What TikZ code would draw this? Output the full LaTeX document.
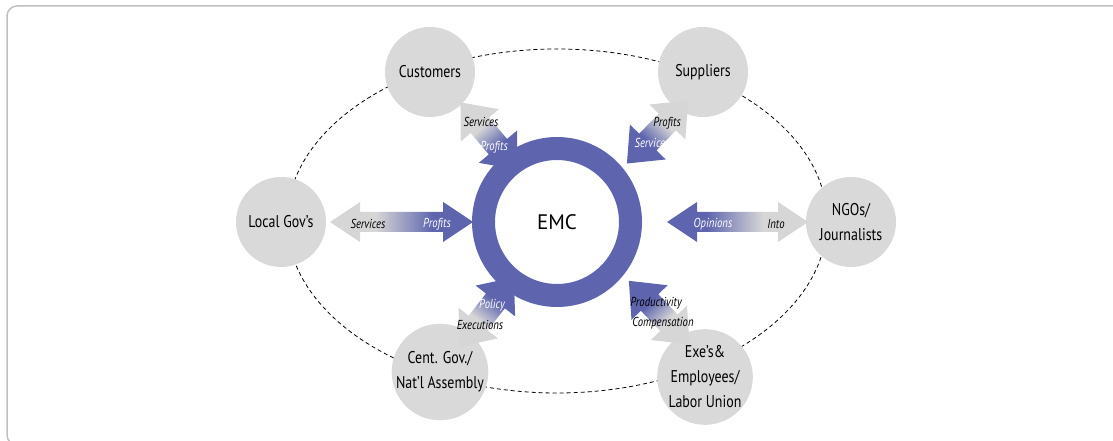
\documentclass[tikz,border=0pt]{standalone}
\usepackage{fontspec}
\setmainfont{PT Sans}
\newfontfamily\narrowfont{PT Sans}[FakeStretch=0.82]
\usepackage{tikz}
\usetikzlibrary{calc}% partway points between the hub and the parties
\definecolor{emcblue}{RGB}{94,101,174}
\definecolor{partygray}{RGB}{217,217,217}
\definecolor{linkgray}{RGB}{214,214,214}
\definecolor{framegray}{RGB}{192,192,192}
\pgfdeclarehorizontalshading{linkshade}{100bp}{color(0bp)=(linkgray);
  color(41bp)=(linkgray); color(61bp)=(emcblue); color(100bp)=(emcblue)}
\tikzset{
  party/.style={circle, fill=partygray, minimum size=90pt, inner sep=0pt,
    align=center, font=\narrowfont\fontsize{17}{25}\selectfont},
  ring/.style={circle, draw=emcblue, line width=23pt, minimum size=147pt,
    font=\fontsize{21}{24}\selectfont},
  flowlabel/.style={inner sep=0pt, font=\narrowfont\itshape\fontsize{13}{15}\selectfont}
}
% #1 = party node, #2 = where the arrow sits between hub and party, #3,#4 = nudge,
% #5 = half length, #6 = half width of the heads, #7 = half width of the shaft
\newcommand{\linkarrow}[7]
{\pgfmathanglebetweenpoints{\pgfpointanchor{#1}{center}}{\pgfpointanchor{hub}{center}}
  \let\linkangle\pgfmathresult
  \begin{scope}[shift={($(hub)!#2!(#1)+(#3,#4)$)}, rotate=\linkangle]
    \shade[shading=linkshade, shading angle=\linkangle]
      (-#5,0) -- (-#5+30,#6) -- (-#5+30,#7) -- (#5-30,#7) -- (#5-30,#6)
      -- (#5,0) -- (#5-30,-#6) -- (#5-30,-#7) -- (-#5+30,-#7) -- (-#5+30,-#6) -- cycle;
  \end{scope}}

\begin{document}
\begin{tikzpicture}[x=1pt,y=1pt]
  \useasboundingbox (0,0) rectangle (1113,441);
  \clip (0,0) rectangle (1113,441);
  \draw[framegray, line width=1.5pt, rounded corners=10pt] (7,-4) rectangle (1130,435);
  \draw[dash pattern=on 4pt off 3pt, line width=0.8pt] (557,220) ellipse [x radius=270, y radius=172];
  \coordinate (hub) at (557,219);
  \node[party] (cust) at (430,369) {Customers};
  \node[party] (supp) at (703,369) {Suppliers};
  \node[party] (local) at (281,219) {Local Gov’s};
  \node[party] (ngo) at (851,219) {NGOs/\\Journalists};
  \node[party] (cgov) at (440,69) {Cent. Gov./\\Nat’l Assembly};
  \node[party] (exe) at (705,64) {Exe’s\&\\Employees/\\Labor Union};
  \foreach \who/\t/\dx/\dy/\l/\a/\b in {local/0.563/0/0/71.5/20/10,
      ngo/0.614/0/0/70.5/20/10, cust/0.56/3/2/44/25/12, supp/0.6/13/0/44/25/12,
      cgov/0.6/0/0/44/25/12, exe/0.63/9/7/44/25/12}
    \linkarrow{\who}{\t}{\dx}{\dy}{\l}{\a}{\b};
  \node[ring] (emc) at (hub) {EMC};
  % words on the arrows
  \node[flowlabel] (cust-s) at (481,319) {Services};
  \node[flowlabel, white] (cust-p) at (494,294) {Profits};
  \node[flowlabel] (supp-p) at (667,318) {Profits};
  \node[flowlabel, white] (supp-s) at (652,298) {Services};
  \node[flowlabel] (local-s) at (368,217) {Services};
  \node[flowlabel, white] (local-p) at (437,217) {Profits};
  \node[flowlabel, white] (ngo-o) at (713,217) {Opinions};
  \node[flowlabel] (ngo-i) at (776,217) {Into};
  \node[flowlabel, white] (cgov-p) at (492,136) {Policy};
  \node[flowlabel] (cgov-e) at (480,116) {Executions};
  \node[flowlabel] (exe-p) at (656,138) {Productivity};
  \node[flowlabel] (exe-c) at (663,118) {Compensation};
\end{tikzpicture}
\end{document}
